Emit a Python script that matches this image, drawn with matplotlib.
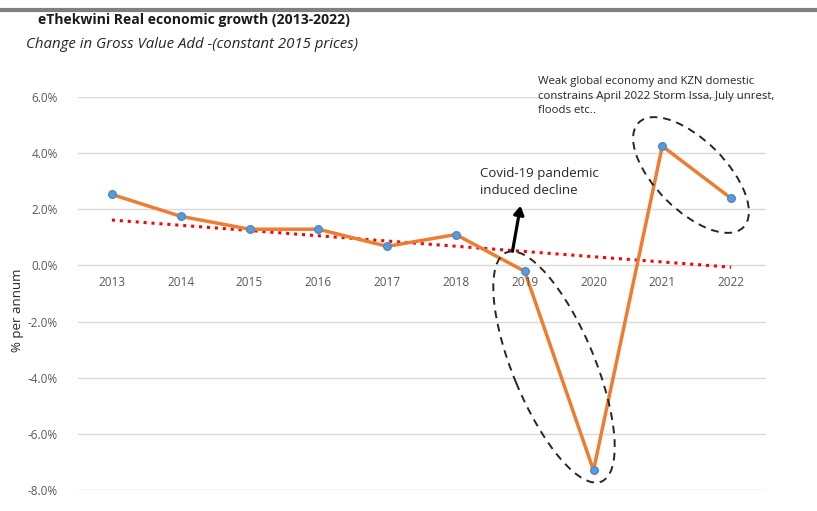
import numpy as np
import matplotlib
matplotlib.use("Agg")
import matplotlib.pyplot as plt
from matplotlib.patches import Ellipse, FancyArrowPatch
from matplotlib.transforms import IdentityTransform
from matplotlib.lines import Line2D

years = ["2013", "2014", "2015", "2016", "2017", "2018", "2019", "2020", "2021", "2022"]
growth = [2.53, 1.75, 1.29, 1.29, 0.68, 1.10, -0.21, -7.30, 4.25, 2.39]
yticks = [6, 4, 2, 0, -2, -4, -6, -8]

plt.rcParams['font.family'] = ['Open Sans', 'DejaVu Sans']

W, H = 817, 511
fig = plt.figure(figsize=(W / 100, H / 100), dpi=100)
ax = fig.add_axes([77.5 / W, 1 - 490 / H, (765.5 - 77.5) / W, (490 - 97) / H])

x = np.arange(len(years))
ax.set_xlim(-0.5, len(years) - 0.5)
ax.set_ylim(-8, 6)

# trend line (linear fit, as in Excel)
coef = np.polyfit(x, growth, 1)
trend = np.polyval(coef, x)
ax.plot(x, trend, color="#FF0000", linestyle=(0, (1, 1.6)), linewidth=2.2, zorder=2)

ax.plot(x, growth, color="#ED7D31", linewidth=2.5, zorder=3)
ax.plot(x, growth, linestyle="none", marker="o", markersize=5.5,
        color="#5B9BD5", markeredgecolor="#4A8BCB", zorder=4)

ax.set_yticks(yticks)
ax.set_yticklabels([f"{v:.1f}%" for v in yticks], color="#595959", fontsize=8.5)
ax.grid(axis="y", color="#D9D9D9", linewidth=1)
ax.set_axisbelow(True)
for s in ax.spines.values():
    s.set_visible(False)
ax.tick_params(axis="both", length=0)
ax.tick_params(axis="y", pad=14)
ax.set_xticks([])
for xi, lab in zip(x, years):
    ax.annotate(lab, xy=(xi, 0), xytext=(0, -12), textcoords="offset points",
                ha="center", va="center", color="#595959", fontsize=8.5)

fig.text(18 / W, 1 - 310 / H, "% per annum", rotation=90, ha="center", va="center",
         fontsize=9.5, color="#262626")

# titles
fig.text(38 / W, 1 - 20 / H, "eThekwini Real economic growth (2013-2022)",
         fontsize=10.1, fontweight="bold", ha="left", va="center", color="#1a1a1a")
fig.text(26 / W, 1 - 45 / H, "Change in Gross Value Add -(constant 2015 prices)",
         fontsize=10.8, style="italic", ha="left", va="center", color="#262626")

# top separator line
fig.add_artist(Line2D([0, 1], [1 - 10 / H, 1 - 10 / H], transform=fig.transFigure,
                      color="#808080", linewidth=3))

# annotations
fig.text(538 / W, 1 - 76 / H,
         "Weak global economy and KZN domestic\nconstrains April 2022 Storm Issa, July unrest,\nfloods etc..",
         fontsize=8.2, ha="left", va="top", color="#262626", linespacing=1.45)
fig.text(480 / W, 1 - 182 / H, "Covid-19 pandemic\ninduced decline",
         fontsize=9.5, ha="left", va="center", color="#262626", linespacing=1.5)

arrow = FancyArrowPatch((512, H - 254), (521, H - 203), transform=IdentityTransform(),
                        arrowstyle="-|>,head_length=5,head_width=3", color="black",
                        linewidth=2.3, mutation_scale=1)
fig.add_artist(arrow)

e1 = Ellipse((554, H - 367), width=248, height=82, angle=-67.5,
             transform=IdentityTransform(), fill=False, edgecolor="#262626",
             linestyle=(0, (4, 3)), linewidth=1.4)
e2 = Ellipse((691, H - 175), width=148, height=70, angle=-45,
             transform=IdentityTransform(), fill=False, edgecolor="#262626",
             linestyle=(0, (4, 3)), linewidth=1.4)
fig.add_artist(e1)
fig.add_artist(e2)

fig.savefig("out.png", dpi=100, facecolor="white")
